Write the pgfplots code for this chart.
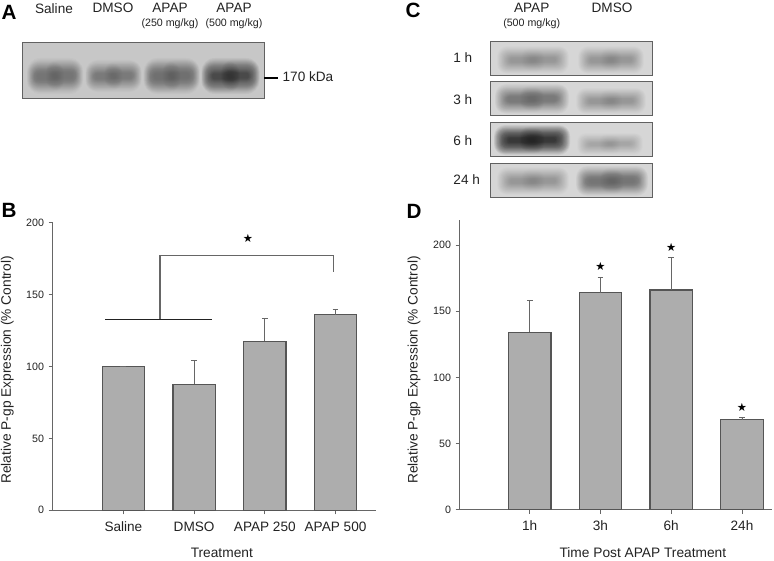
\documentclass[border=0pt]{standalone}
\usepackage{pgfplots}
\pgfplotsset{compat=1.18}
\usepackage{fontspec}
\setmainfont{Liberation Sans}
\newfontfamily\symfont{DejaVu Sans}
\definecolor{barfill}{HTML}{ADADAD}
\definecolor{baredge}{HTML}{555555}
\definecolor{axln}{HTML}{666666}
\definecolor{txt}{HTML}{222222}
% blurred band: cx, cy, w, h, opacity per layer
\newcommand\bandraw[5]{%
  \foreach \k in {0,...,15}{%
    \pgfmathsetmacro\ww{(#3)/2*(1-\k*0.025)}%
    \pgfmathsetmacro\hh{(#4)/2*(1-\k*0.055)}%
    \pgfmathsetmacro\rr{min(\ww,\hh)*0.55}%
    \fill[black,opacity=#5,rounded corners=\rr pt] ({#1-\ww},{#2-\hh}) rectangle ({#1+\ww},{#2+\hh});
  }}
\newcommand\band[5]{%
  \pgfmathsetmacro\opa{(#5)*0.72}%
  \pgfmathsetmacro\opb{(#5)*0.28}%
  \bandraw{#1}{#2}{#3}{#4}{\opa}%
  \bandraw{#1-(#3)*0.17}{#2+0.8}{(#3)*0.66}{(#4)*0.85}{\opb}%
  \bandraw{#1+(#3)*0.17}{#2-0.8}{(#3)*0.66}{(#4)*0.85}{\opb}%
}
\pgfplotsset{
  panel/.style={
    scale only axis, clip=false,
    axis x line=bottom, axis y line=left,
    axis line style={-,axln,line width=0.75pt},
    tick style={axln,line width=0.6pt},
    major tick length=3pt,
    ymin=0,
    xtick=data,
    ytick={0,50,100,150,200},
    tick align=outside,
    ticklabel style={text=txt},
    /pgf/number format/assume math mode=true,
    yticklabel style={font=\fontsize{8}{9}\selectfont,xshift=0pt},
    xticklabel style={font=\fontsize{10.2}{12}\selectfont,yshift=-2pt},
    label style={font=\fontsize{10.3}{12}\selectfont,text=txt},
    ybar, bar shift=0pt, bar width=0.6,
  },
  barstyle/.style={
    draw=baredge, fill=barfill, line width=1pt,
    error bars/.cd, y dir=plus, y explicit,
    error bar style={line width=0.7pt,color=axln},
    error mark options={mark size=2.2pt,line width=0.7pt,color=axln,rotate=90},
  },
}
\begin{document}
\begin{tikzpicture}
\useasboundingbox (0,0) rectangle (580.5pt,-420pt);
\begin{scope}[x=0.75pt,y=-0.75pt]
% --- Panel A blot ---
\fill[black!22] (22.7,42.3) rectangle (264.3,98.7);
\band{55}{76}{56}{36}{0.028}
\band{113.5}{76}{56}{32}{0.024}
\band{171.7}{76}{56}{36}{0.03}
\band{230.5}{76}{58}{36}{0.05}
\draw[black!62,line width=0.8pt] (22.7,42.3) rectangle (264.3,98.7);
\draw[black,line width=1.4pt] (264.3,78) -- (278,78);
\node[text=txt,font=\fontsize{10.2}{12}\selectfont] at (308,77) {170 kDa};
\node[text=txt,font=\fontsize{10.2}{12}\selectfont] at (54,8.3) {Saline};
\node[text=txt,font=\fontsize{10.2}{12}\selectfont] at (113,8.3) {DMSO};
\node[text=txt,font=\fontsize{10.2}{12}\selectfont] at (170,8.3) {APAP};
\node[text=txt,font=\fontsize{10.2}{12}\selectfont] at (234,8.3) {APAP};
\node[text=txt,font=\fontsize{8}{9}\selectfont] at (170,24) {(250 mg/kg)};
\node[text=txt,font=\fontsize{8}{9}\selectfont] at (234,24) {(500 mg/kg)};
% --- Panel C blots ---
\foreach \ya/\yb in {41/75.3,81.7/115.7,122.3/156.3,163.3/197.3}{
  \fill[black!16] (490.3,\ya) rectangle (652,\yb);
}
\band{533}{60}{72}{28}{0.015}
\band{611}{60}{66}{28}{0.018}
\band{532}{99}{74}{30}{0.028}
\band{611}{101}{70}{26}{0.018}
\band{532}{140}{76}{30}{0.07}
\band{610}{144}{66}{22}{0.012}
\band{533}{181}{72}{28}{0.015}
\band{612}{181}{72}{30}{0.03}
\foreach \ya/\yb in {41/75.3,81.7/115.7,122.3/156.3,163.3/197.3}{
  \draw[black!62,line width=0.7pt] (490.3,\ya) rectangle (652,\yb);
}
\node[text=txt,font=\fontsize{10.2}{12}\selectfont] at (531.7,8) {APAP};
\node[text=txt,font=\fontsize{8}{9}\selectfont] at (531.7,24) {(500 mg/kg)};
\node[text=txt,font=\fontsize{10.2}{12}\selectfont] at (612,8) {DMSO};
\node[text=txt,font=\fontsize{10.2}{12}\selectfont] at (462.7,58) {1 h};
\node[text=txt,font=\fontsize{10.2}{12}\selectfont] at (462.7,99.5) {3 h};
\node[text=txt,font=\fontsize{10.2}{12}\selectfont] at (462.7,141) {6 h};
\node[text=txt,font=\fontsize{10.2}{12}\selectfont] at (466.7,180) {24 h};
% --- Panel letters ---
\foreach \lx/\ly/\lt in {9/12/A,9/210/B,413/10/C,414/211/D}{
  \node[font=\fontsize{15.5}{16}\selectfont\bfseries,text=black] at (\lx,\ly) {\lt};
}
\end{scope}
% --- Panel B ---
\begin{axis}[panel,
  at={(39.525pt,-382.725pt)},anchor=origin,
  width=242.5pt,height=215.7pt,
  xmin=0,xmax=4.573,ymax=200,
  xticklabels={Saline,DMSO,APAP 250,APAP 500},
  xlabel={Treatment},ylabel={Relative P-gp Expression (\% Control)},
  xlabel style={at={(axis description cs:0.523,-0.148)},anchor=center},
  ylabel style={at={(axis description cs:-0.14,0.488)},anchor=center},
]
\addplot[barstyle] table[x=x,y=y,y error=e] {
x y e
1 100 0
2 87.5 17
3 117.5 16
4 136 3.5
};
\addplot[ybar=0pt,sharp plot,draw=txt,line width=0.6pt,forget plot] coordinates {(0.74,133) (2.25,133)};
\addplot[ybar=0pt,sharp plot,draw=axln,line width=0.8pt,forget plot] coordinates {(1.518,133) (1.518,177.5) (3.97,177.5) (3.97,165.5)};
\node[font=\symfont\fontsize{8.5}{9}\selectfont,text=black] at (axis cs:2.76,189) {★};
\end{axis}
% --- Panel D ---
\begin{axis}[panel,
  at={(344.775pt,-382.275pt)},anchor=origin,
  width=234pt,height=217.3pt,
  xmin=0.01,xmax=4.42,ymax=219,
  xticklabels={1h,3h,6h,24h},
  xlabel={Time Post APAP Treatment},ylabel={Relative P-gp Expression (\% Control)},
  xlabel style={at={(axis description cs:0.587,-0.149)},anchor=center},
  ylabel style={at={(axis description cs:-0.146,0.482)},anchor=center},
]
\addplot[barstyle] table[x=x,y=y,y error=e] {
x y e
1 134 24.5
2 164 11.5
3 166 24.5
4 68 1.5
};
\node[font=\symfont\fontsize{8.5}{9}\selectfont,text=black] at (axis cs:2.0,184) {★};
\node[font=\symfont\fontsize{8.5}{9}\selectfont,text=black] at (axis cs:3.0,198) {★};
\node[font=\symfont\fontsize{8.5}{9}\selectfont,text=black] at (axis cs:4.0,77) {★};
\end{axis}
\end{tikzpicture}
\end{document}
